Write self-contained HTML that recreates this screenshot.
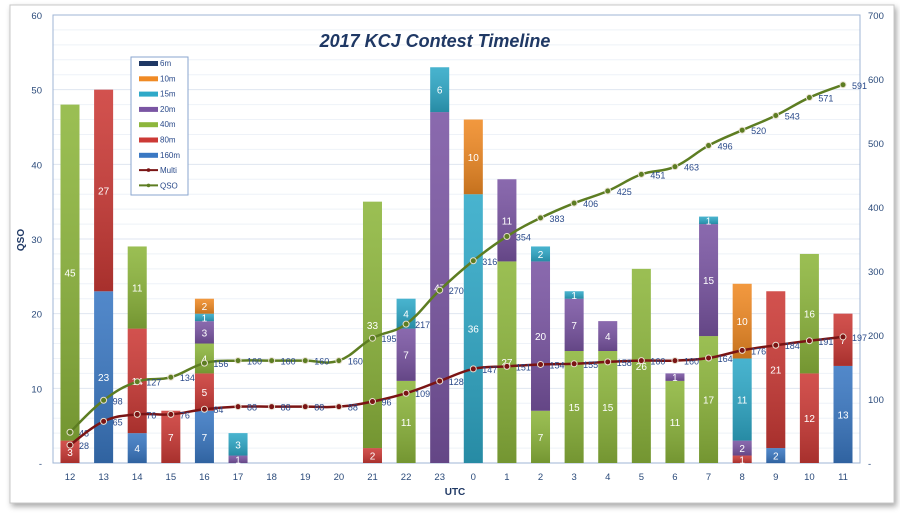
<!DOCTYPE html><html><head><meta charset="utf-8"><style>
html,body{margin:0;padding:0;background:#fff;width:900px;height:515px;overflow:hidden}
svg{display:block;font-family:"Liberation Sans",sans-serif}
</style></head><body>
<svg id="s" width="900" height="515" xmlns="http://www.w3.org/2000/svg">
<defs>
<filter id="sh" x="-5%" y="-5%" width="110%" height="110%"><feDropShadow dx="2" dy="3" stdDeviation="3" flood-color="#000" flood-opacity="0.35"/></filter>
<linearGradient id="dk" x1="0" y1="0" x2="0" y2="1"><stop offset="0" stop-color="#fff" stop-opacity="0.12"/><stop offset="1" stop-color="#000" stop-opacity="0.18"/></linearGradient>
</defs>
<rect x="10" y="5" width="884" height="498" fill="#fff" stroke="#c8c8c8" filter="url(#sh)"/>
<g id="g"></g>
</svg>
<script>
var g=document.getElementById('g'),NS='http://www.w3.org/2000/svg';
function el(t,a,txt){var e=document.createElementNS(NS,t);for(var k in a)e.setAttribute(k,a[k]);if(txt!=null)e.textContent=txt;g.appendChild(e);return e;}
var X0=53,X1=860,Y0=463,YT=15,sc=(Y0-YT)/60,rs=(Y0-YT)/700;
for(var v=2;v<=60;v+=2){var y=Y0-v*sc;el('line',{x1:X0,x2:X1,y1:y,y2:y,stroke:v%10==0?'#dfe6f0':'#eef2f8','stroke-width':1});}
el('rect',{x:X0,y:YT,width:X1-X0,height:Y0-YT,fill:'none',stroke:'#9fb4d4','stroke-width':1});
for(var v=0;v<=60;v+=10){el('text',{x:42,y:Y0-v*sc+4,'font-size':9.5,fill:'#2a4a7a','text-anchor':'end'},v?v:'-');}
for(var v=0;v<=700;v+=100){el('text',{x:868,y:Y0-v*rs+4,'font-size':9.5,fill:'#2a4a7a'},v?v:'-');}
el('text',{x:24,y:240,'font-size':10,'font-weight':'bold',fill:'#1f3864',transform:'rotate(-90 24 240)','text-anchor':'middle'},'QSO');
el('text',{x:455,y:495,'font-size':10,'font-weight':'bold',fill:'#1f3864','text-anchor':'middle'},'UTC');
el('text',{x:435,y:47,'font-size':18,'font-weight':'bold','font-style':'italic',fill:'#1f3864','text-anchor':'middle'},'2017 KCJ Contest Timeline');
var hrs=[12,13,14,15,16,17,18,19,20,21,22,23,0,1,2,3,4,5,6,7,8,9,10,11];
var col={b160:'#3a78c3',b80:'#cc3a36',b40:'#8db63c',b20:'#7a55a3',b15:'#2fa9c8',b10:'#f08a24'};
var order=['b160','b80','b40','b20','b15','b10'];
var D=[{b80:3,b40:45},{b160:23,b80:27},{b160:4,b80:14,b40:11},{b80:7},{b160:7,b80:5,b40:4,b20:3,b15:1,b10:2},{b20:1,b15:3},{},{},{},{b80:2,b40:33},{b40:11,b20:7,b15:4},{b20:47,b15:6},{b15:36,b10:10},{b40:27,b20:11},{b40:7,b20:20,b15:2},{b40:15,b20:7,b15:1},{b40:15,b20:4},{b40:26},{b40:11,b20:1},{b40:17,b20:15,b15:1},{b80:1,b20:2,b15:11,b10:10},{b160:2,b80:21},{b80:12,b40:16},{b160:13,b80:7}];
var dx=(843-70)/23,bw=19;
for(var i=0;i<24;i++){var cx=70+i*dx,acc=0;
 el('text',{x:cx,y:480,'font-size':9.5,fill:'#2a4a7a','text-anchor':'middle'},hrs[i]);
 order.forEach(function(k){var n=D[i][k];if(!n)return;var y1=Y0-acc*sc,y2=Y0-(acc+n)*sc;
  el('rect',{x:cx-bw/2,y:y2,width:bw,height:y1-y2,fill:col[k]});
  el('rect',{x:cx-bw/2,y:y2,width:bw,height:y1-y2,fill:'url(#dk)'});
  el('text',{x:cx,y:(y1+y2)/2+4,'font-size':10,fill:'#fff','text-anchor':'middle'},n);
  acc+=n;});
}
function line(vals,c){var p=vals.map(function(v,i){return [70+i*dx,Y0-v*rs];});
 var d='M'+p[0][0]+','+p[0][1];
 for(var i=0;i<p.length-1;i++){var p0=p[i-1]||p[i],p1=p[i],p2=p[i+1],p3=p[i+2]||p2,t=0.2;
  d+=' C'+(p1[0]+(p2[0]-p0[0])*t)+','+(p1[1]+(p2[1]-p0[1])*t)+' '+(p2[0]-(p3[0]-p1[0])*t)+','+(p2[1]-(p3[1]-p1[1])*t)+' '+p2[0]+','+p2[1];}
 el('path',{d:d,fill:'none',stroke:c,'stroke-width':2.5});
 p.forEach(function(q,i){el('circle',{cx:q[0],cy:q[1],r:3,fill:c,stroke:'#e8e0d0','stroke-width':1});
  el('text',{x:q[0]+9,y:q[1]+4,'font-size':9,fill:'#2a4a8a'},vals[i]);});}
line([48,98,127,134,156,160,160,160,160,195,217,270,316,354,383,406,425,451,463,496,520,543,571,591],'#5d7d22');
line([28,65,76,76,84,88,88,88,88,96,109,128,147,151,154,155,158,160,160,164,176,184,191,197],'#7a1414');
el('rect',{x:131,y:57,width:57,height:138,fill:'#fff',stroke:'#8aa6cf'});
var L=[['6m','#1f3864'],['10m','#f08a24'],['15m','#2fa9c8'],['20m','#7a55a3'],['40m','#8db63c'],['80m','#cc3a36'],['160m','#3a78c3']];
L.forEach(function(l,i){var y=63+i*15.3;el('rect',{x:139,y:y-2,width:19,height:5,fill:l[1]});el('text',{x:160,y:y+3,'font-size':8,fill:'#2a4a8a'},l[0]);});
[['Multi','#7a1414'],['QSO','#5d7d22']].forEach(function(l,i){var y=63+(7+i)*15.3;el('line',{x1:139,x2:158,y1:y,y2:y,stroke:l[1],'stroke-width':2});el('circle',{cx:148.5,cy:y,r:1.8,fill:l[1]});el('text',{x:160,y:y+3,'font-size':8,fill:'#2a4a8a'},l[0]);});
</script>
</body></html>
